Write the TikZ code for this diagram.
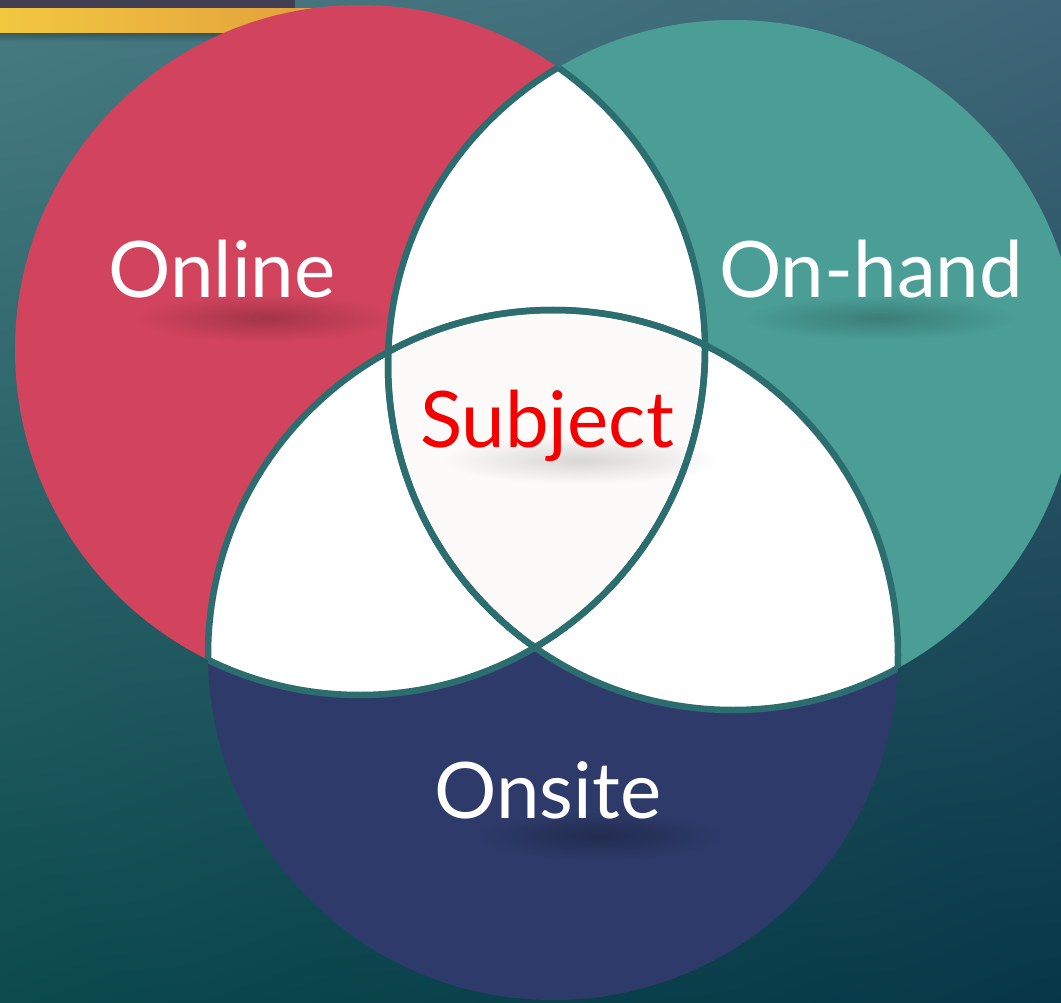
\documentclass[tikz,border=0pt]{standalone}
\usepackage{fontspec}
\setmainfont{Lato}
\usetikzlibrary{fadings,shadings}
\tikzfading[name=softfade, inner color=transparent!0, outer color=transparent!100]
\definecolor{bgUL}{HTML}{477C82}
\definecolor{bgUR}{HTML}{3E6577}
\definecolor{bgLL}{HTML}{0B4A4D}
\definecolor{bgLR}{HTML}{073747}
\definecolor{darkbar}{HTML}{433F52}
\definecolor{barL}{HTML}{F2C840}
\definecolor{barR}{HTML}{E39E3C}
\definecolor{onlinec}{HTML}{D2445E}
\definecolor{onhandc}{HTML}{4A9E96}
\definecolor{onsitec}{HTML}{2E3B6A}
\definecolor{rimc}{HTML}{2C6E6F}
\definecolor{centerc}{HTML}{FCFBF9}
\definecolor{subjc}{HTML}{F50000}
\tikzset{
  label/.style={font=\fontsize{78}{90}\selectfont, inner sep=0pt, anchor=base},
  rim/.style={draw=rimc, line width=6.5pt},
  softshadow/.style={fill=black, path fading=softfade}
}
\newcommand{\rr}{345pt}
\begin{document}
\begin{tikzpicture}[x=1pt,y=-1pt]
\useasboundingbox (0,0) rectangle (1061,1003);
\shade[upper left=bgUL, upper right=bgUR, lower left=bgLL, lower right=bgLR] (0,0) rectangle (1061,1003);
% top bars
\fill[darkbar] (0,0) rectangle (295,8);
\fill[black, opacity=0.25, path fading=south] (0,33) rectangle (330,42);
\shade[left color=barL, right color=barR] (0,9) rectangle (330,33);
% centres
\coordinate (R) at (360,350);
\coordinate (T) at (733,365);
\coordinate (N) at (553,655);
% circles
\fill[onlinec] (R) circle[radius=\rr];
\fill[onhandc] (T) circle[radius=\rr];
\fill[onsitec] (N) circle[radius=\rr];
% white overlaps
\begin{scope}
  \clip (R) circle[radius=\rr];
  \fill[white] (T) circle[radius=\rr];
  \fill[white] (N) circle[radius=\rr];
\end{scope}
\begin{scope}
  \clip (T) circle[radius=\rr];
  \fill[white] (N) circle[radius=\rr];
\end{scope}
\begin{scope}
  \clip (R) circle[radius=\rr];
  \clip (T) circle[radius=\rr];
  \fill[centerc] (N) circle[radius=\rr];
\end{scope}
% soft shadows under labels
\fill[softshadow, opacity=0.22] (265,318) ellipse [x radius=130pt, y radius=24pt];
\fill[softshadow, opacity=0.20] (880,318) ellipse [x radius=135pt, y radius=22pt];
\fill[softshadow, opacity=0.14] (580,460) ellipse [x radius=140pt, y radius=24pt];
\fill[softshadow, opacity=0.25] (600,836) ellipse [x radius=120pt, y radius=24pt];
% rims
\begin{scope}
  \clip (R) circle[radius=\rr];
  \draw[rim] (T) circle[radius=\rr];
  \draw[rim] (N) circle[radius=\rr];
\end{scope}
\begin{scope}
  \clip (T) circle[radius=\rr];
  \draw[rim] (R) circle[radius=\rr];
  \draw[rim] (N) circle[radius=\rr];
\end{scope}
\begin{scope}
  \clip (N) circle[radius=\rr];
  \draw[rim] (R) circle[radius=\rr];
  \draw[rim] (T) circle[radius=\rr];
\end{scope}
% labels
\node[label, text=white] (online) at (222,298) {Online};
\node[label, text=white] (onhand) at (871,298) {On-hand};
\node[label, text=subjc] (subject) at (547,447) {Subject};
\node[label, text=white] (onsite) at (548,818) {Onsite};
\end{tikzpicture}
\end{document}
